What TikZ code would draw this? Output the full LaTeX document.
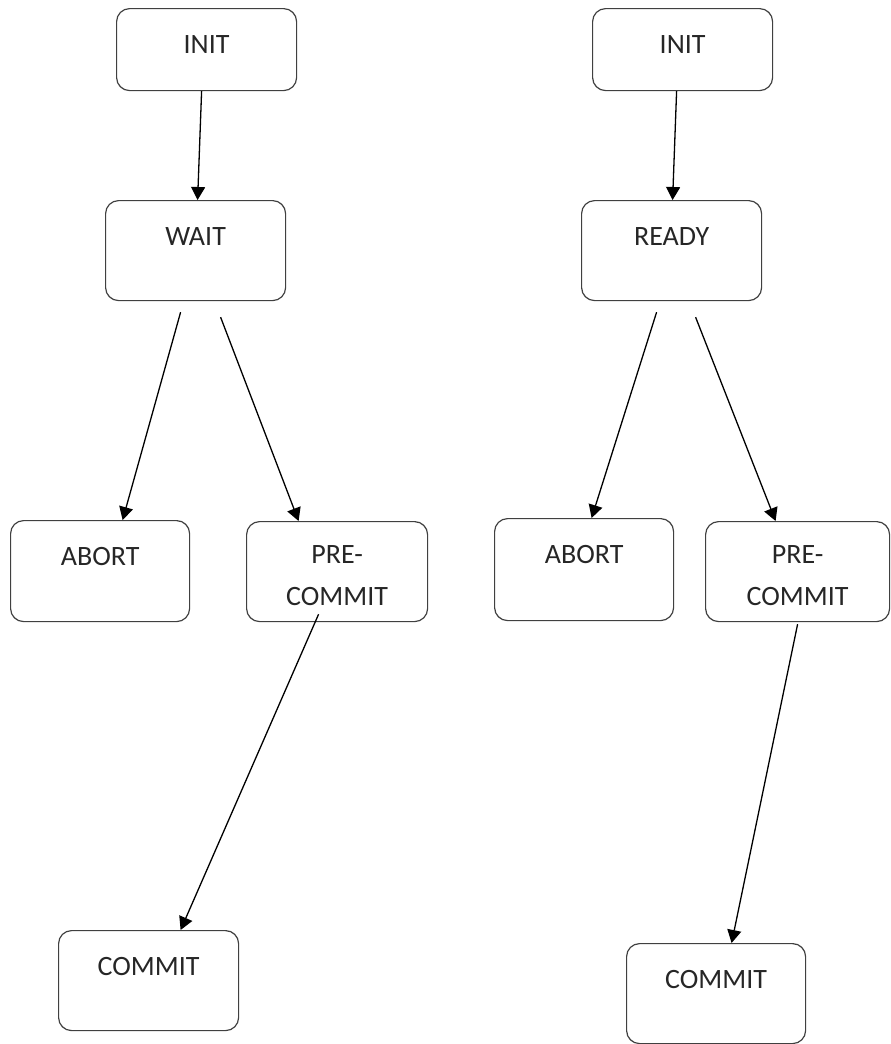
\documentclass[tikz,border=0pt]{standalone}
\usepackage{fontspec}
\setmainfont{Carlito}
\usetikzlibrary{arrows.meta}

\begin{document}
\begin{tikzpicture}[x=1pt, y=1pt,
  state/.style={draw=black!75, line width=1.2pt, rounded corners=13pt, anchor=north west,
    inner sep=0pt, minimum width=180pt, text height=45pt, text depth=55pt,
    font=\fontsize{28}{42}\selectfont, text=black!85, align=center},
  flow/.style={black, line width=1.3pt, -{Triangle[length=13pt, width=14pt]}}]
  \useasboundingbox (0,0) rectangle (891,-1044);
  % left column
  \node[state, text depth=37pt] (lInit) at (116,-8) {INIT};
  \node[state] (lWait) at (105,-200) {WAIT};
  \node[state, minimum width=179pt, text depth=56pt] (lAbort) at (10,-520) {ABORT};
  \node[state, minimum width=181pt, text height=84pt, text depth=16pt] (lPre) at (246,-521) {PRE-\\COMMIT};
  \node[state] (lCommit) at (58,-930) {COMMIT};
  % right column
  \node[state, text depth=37pt] (rInit) at (592,-8) {INIT};
  \node[state] (rReady) at (581,-200) {READY};
  \node[state, minimum width=179pt, text depth=57pt] (rAbort) at (494,-518) {ABORT};
  \node[state, minimum width=184pt, text height=84pt, text depth=16pt] (rPre) at (705,-521) {PRE-\\COMMIT};
  \node[state, minimum width=179pt] (rCommit) at (626,-943) {COMMIT};
  % transitions
  \draw[flow] ([xshift=-5pt]lInit.south) -- ([xshift=2pt]lWait.north);
  \draw[flow] ([xshift=-15pt, yshift=-11pt]lWait.south) -- ([xshift=22.5pt]lAbort.north);
  \draw[flow] ([xshift=25pt, yshift=-16pt]lWait.south) -- ([xshift=-38.5pt]lPre.north);
  \draw[flow] ([xshift=-18.5pt, yshift=8pt]lPre.south) -- ([xshift=32pt]lCommit.north);
  \draw[flow] ([xshift=-6pt]rInit.south) -- ([xshift=1pt]rReady.north);
  \draw[flow] ([xshift=-15pt, yshift=-11pt]rReady.south) -- ([xshift=7.5pt]rAbort.north);
  \draw[flow] ([xshift=24pt, yshift=-16pt]rReady.south) -- ([xshift=-22pt]rPre.north);
  \draw[flow] ([yshift=-2pt]rPre.south) -- ([xshift=15.5pt]rCommit.north);
\end{tikzpicture}
\end{document}
